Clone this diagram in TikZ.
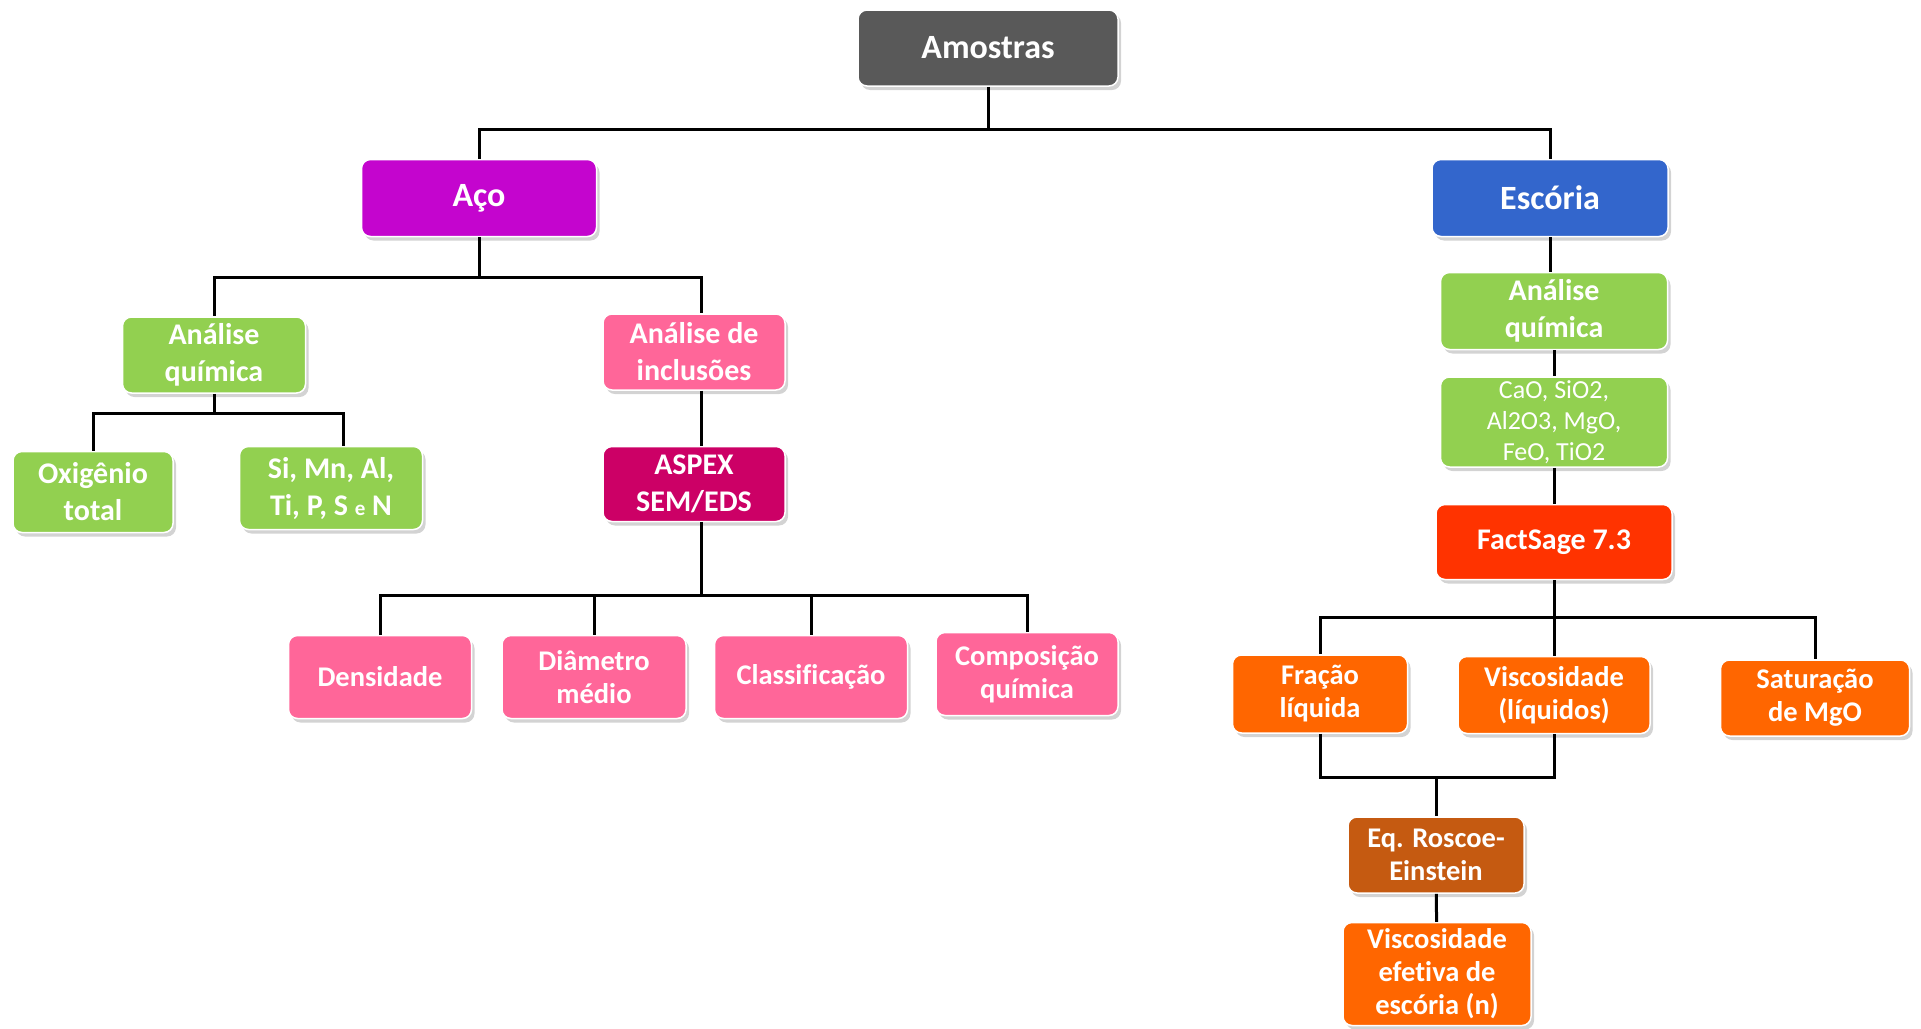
\documentclass[tikz,border=0pt]{standalone}
\usepackage{fontspec}
\setmainfont{Carlito}[Ligatures=CommonOff]
\usepackage{tikz}
\usetikzlibrary{shapes,shadows}
\definecolor{cinza}{RGB}{89,89,89}
\definecolor{roxo}{RGB}{196,5,206}
\definecolor{azul}{RGB}{51,102,204}
\definecolor{verde}{RGB}{146,208,80}
\definecolor{rosa}{RGB}{255,102,153}
\definecolor{vinho}{RGB}{204,0,102}
\definecolor{vermelho}{RGB}{255,51,0}
\definecolor{laranja}{RGB}{255,102,0}
\definecolor{marrom}{RGB}{197,90,17}

\begin{document}
\begin{tikzpicture}[x=1pt,y=1pt,
	caixa/.style={rectangle,rounded corners=9pt,draw=white,line width=1.5pt,text=white,align=center,inner sep=0pt,
		font=\bfseries\fontsize{30}{37}\selectfont,
		drop shadow={shadow xshift=3pt,shadow yshift=-4pt,opacity=0.35}},
	menor/.style={font=\bfseries\fontsize{28.5}{33}\selectfont},
	linha/.style={black,line width=3pt}]
	\useasboundingbox (0,0) rectangle (1921,-1028);
	\node[caixa,fill=cinza,minimum width=260pt,minimum height=76pt,font=\bfseries\fontsize{34}{40}\selectfont] (amostras) at (988,-48) {Amostras};
	\node[caixa,fill=roxo,minimum width=235pt,minimum height=77pt,font=\bfseries\fontsize{34}{40}\selectfont] (aco) at (479,-198) {Aço};
	\node[caixa,fill=azul,minimum width=236pt,minimum height=77pt,font=\bfseries\fontsize{34}{40}\selectfont] (escoria) at (1550,-198) {Escória};
	\node[caixa,fill=verde,minimum width=183pt,minimum height=76pt] (aq1) at (214,-355) {Análise\\química};
	\node[caixa,fill=verde,minimum width=160pt,minimum height=81pt] (oxig) at (93,-492) {Oxigênio\\total};
	\node[caixa,fill=verde,minimum width=183pt,minimum height=83pt] (elem) at (331,-488) {Si, Mn, Al,\\Ti, P, S {\fontsize{21}{21}\selectfont e} N};
	\node[caixa,fill=rosa,minimum width=182pt,minimum height=76pt] (incl) at (694,-352) {Análise de\\inclusões};
	\node[caixa,fill=vinho,minimum width=182pt,minimum height=75pt] (aspex) at (694,-484) {ASPEX\\SEM/EDS};
	\node[caixa,menor,fill=rosa,minimum width=183pt,minimum height=83pt] (dens) at (380,-677) {Densidade};
	\node[caixa,menor,fill=rosa,minimum width=184pt,minimum height=83pt] (diam) at (594,-677) {Diâmetro\\médio};
	\node[caixa,menor,fill=rosa,minimum width=193pt,minimum height=83pt] (class) at (811,-677) {Classificação};
	\node[caixa,menor,fill=rosa,minimum width=182pt,minimum height=83pt] (comp) at (1027,-674) {Composição\\química};
	\node[caixa,fill=verde,minimum width=227pt,minimum height=77pt] (aq2) at (1554,-311) {Análise\\química};
	\node[caixa,fill=verde,minimum width=227pt,minimum height=90pt,font=\fontsize{26}{31}\selectfont] (oxid) at (1554,-422) {CaO, SiO2,\\Al2O3, MgO,\\FeO, TiO2};
	\node[caixa,fill=vermelho,minimum width=236pt,minimum height=75pt,font=\bfseries\fontsize{30}{34}\selectfont] (fact) at (1554,-542) {FactSage 7.3};
	\node[caixa,menor,fill=laranja,minimum width=175pt,minimum height=78pt] (frac) at (1320,-694) {Fração\\líquida};
	\node[caixa,menor,fill=laranja,minimum width=192pt,minimum height=77pt] (visc) at (1554,-695) {Viscosidade\\(líquidos)};
	\node[caixa,menor,fill=laranja,minimum width=189pt,minimum height=76pt] (satur) at (1815,-698) {Saturação\\de MgO};
	\node[caixa,menor,fill=marrom,minimum width=176pt,minimum height=76pt] (roscoe) at (1436,-855) {Eq. Roscoe-\\Einstein};
	\node[caixa,menor,fill=laranja,minimum width=188pt,minimum height=103pt] (efet) at (1437,-974) {Viscosidade\\efetiva de\\escória (n)};
	\coordinate (b1) at (988,-129);
	\coordinate (b2) at (479,-277);
	\coordinate (b3) at (214,-413);
	\coordinate (b4) at (701,-595);
	\coordinate (b5) at (1554,-617);
	\coordinate (b6) at (1436,-777);
	\draw[linha] (amostras) -- (b1);
	\draw[linha] (b1) -| (aco);
	\draw[linha] (b1) -| (escoria);
	\draw[linha] (aco) -- (b2);
	\draw[linha] (b2) -| (aq1);
	\draw[linha] (b2) -| ([xshift=7pt]incl.north);
	\draw[linha] (aq1) -- (b3);
	\draw[linha] (b3) -| (oxig);
	\draw[linha] (b3) -| ([xshift=12pt]elem.north);
	\draw[linha] ([xshift=7pt]incl.south) -- ([xshift=7pt]aspex.north);
	\draw[linha] ([xshift=7pt]aspex.south) -- (b4);
	\draw[linha] (b4) -| (dens);
	\draw[linha] (b4) -| (diam);
	\draw[linha] (b4) -| (class);
	\draw[linha] (b4) -| (comp);
	\draw[linha] (escoria) -- (escoria |- aq2.north);
	\draw[linha] (aq2) -- (oxid);
	\draw[linha] (oxid) -- (fact);
	\draw[linha] (fact) -- (b5);
	\draw[linha] (b5) -| (frac);
	\draw[linha] (b5) -- (visc);
	\draw[linha] (b5) -| (satur);
	\draw[linha] (frac) |- (b6);
	\draw[linha] (visc) |- (b6);
	\draw[linha] (b6) -- (roscoe);
	\draw[linha] (roscoe) -- (efet);
\end{tikzpicture}
\end{document}
